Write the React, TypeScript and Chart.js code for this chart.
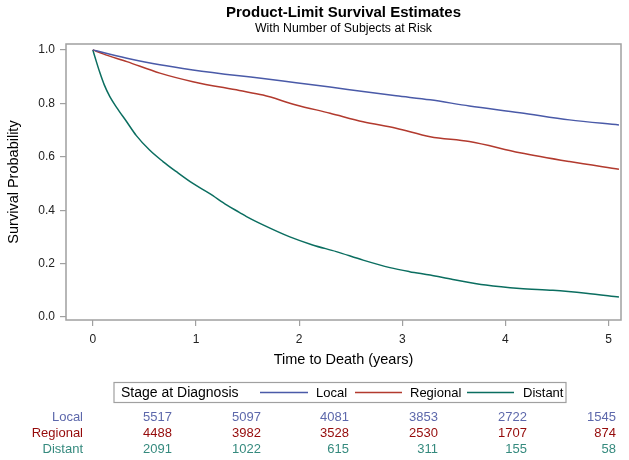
import React, { useEffect, useRef } from "react";
import { Chart, registerables } from "chart.js";
Chart.register(...registerables);

const xTicks = [0, 1, 2, 3, 4, 5];
const yTicks = [0, 0.2, 0.4, 0.6, 0.8, 1.0];

const groups = ["Local", "Regional", "Distant"];

const localT = [0, 0.1, 0.33, 0.65, 0.97, 1.42, 1.65, 1.97, 2.3, 2.62, 2.94, 3.27, 3.65, 4.14, 4.62, 5.1];
const localS = [1.0, 0.99, 0.969, 0.944, 0.925, 0.903, 0.893, 0.877, 0.861, 0.844, 0.828, 0.813, 0.79, 0.765, 0.738, 0.719];

const regionalT = [0, 0.1, 0.33, 0.65, 0.97, 1.42, 1.65, 1.97, 2.3, 2.62, 2.94, 3.27, 3.65, 4.14, 4.62, 5.1];
const regionalS = [1.0, 0.985, 0.956, 0.913, 0.881, 0.848, 0.831, 0.794, 0.763, 0.731, 0.707, 0.675, 0.657, 0.615, 0.582, 0.553];

const distantT = [0, 0.035, 0.068, 0.11, 0.165, 0.23, 0.33, 0.42, 0.55, 0.68, 0.81, 0.97, 1.13, 1.3, 1.42, 1.49, 1.65, 1.91, 2.13, 2.36, 2.62, 2.88, 3.07, 3.27, 3.49, 3.81, 4.14, 4.46, 4.78, 5.1];
const distantS = [1.0, 0.955, 0.915, 0.87, 0.825, 0.785, 0.73, 0.68, 0.625, 0.582, 0.544, 0.5, 0.463, 0.419, 0.392, 0.376, 0.345, 0.3, 0.27, 0.245, 0.213, 0.185, 0.17, 0.157, 0.141, 0.12, 0.107, 0.1, 0.089, 0.075];

const atRiskLocal = [5517, 5097, 4081, 3853, 2722, 1545];
const atRiskRegional = [4488, 3982, 3528, 2530, 1707, 874];
const atRiskDistant = [2091, 1022, 615, 311, 155, 58];

const lineColors = ["#4a5aa8", "#b23a2e", "#0b6e60"];
const textColors = ["#5d68ab", "#950a0a", "#358a7e"];

const FONT = '"Liberation Sans", Arial, sans-serif';

function pts(t: number[], s: number[]) {
  return t.map((x, i) => ({ x, y: s[i] }));
}

const decor = {
  id: "decor",
  afterDraw(chart: any) {
    const ctx = chart.ctx;
    const ca = chart.chartArea;
    ctx.save();
    // frame
    ctx.strokeStyle = "#a0a0a0";
    ctx.lineWidth = 1.5;
    ctx.strokeRect(ca.left, ca.top, ca.right - ca.left, ca.bottom - ca.top);
    const cx = (ca.left + ca.right) / 2;
    // titles
    ctx.fillStyle = "#000";
    ctx.textAlign = "center";
    ctx.textBaseline = "middle";
    ctx.font = "bold 15px " + FONT;
    ctx.fillText("Product-Limit Survival Estimates", cx, 13);
    ctx.font = "12.3px " + FONT;
    ctx.fillText("With Number of Subjects at Risk", cx, 29);
    // axis titles
    ctx.font = "14.5px " + FONT;
    ctx.fillText("Time to Death (years)", cx, 360);
    ctx.save();
    ctx.translate(14, (ca.top + ca.bottom) / 2);
    ctx.rotate(-Math.PI / 2);
    ctx.fillText("Survival Probability", 0, 0);
    ctx.restore();
    // legend
    ctx.strokeStyle = "#a0a0a0";
    ctx.lineWidth = 1.2;
    ctx.strokeRect(114, 382.5, 452, 20);
    ctx.textAlign = "left";
    ctx.fillStyle = "#000";
    ctx.font = "14px " + FONT;
    ctx.fillText("Stage at Diagnosis", 121, 393);
    ctx.font = "13px " + FONT;
    const legItems = [
      { x0: 260, x1: 308, tx: 316 },
      { x0: 355, x1: 402, tx: 410 },
      { x0: 467, x1: 514, tx: 523 },
    ];
    legItems.forEach((it, i) => {
      ctx.strokeStyle = lineColors[i];
      ctx.lineWidth = 1.5;
      ctx.beginPath();
      ctx.moveTo(it.x0, 392.5);
      ctx.lineTo(it.x1, 392.5);
      ctx.stroke();
      ctx.fillStyle = "#000";
      ctx.fillText(groups[i], it.tx, 393);
    });
    // at-risk table
    const rows = [atRiskLocal, atRiskRegional, atRiskDistant];
    const rowY = [417, 433, 449.5];
    const colX = [172, 261, 349, 438, 527, 616];
    ctx.font = "13px " + FONT;
    rows.forEach((r, i) => {
      ctx.fillStyle = textColors[i];
      ctx.textAlign = "right";
      ctx.fillText(groups[i], 83, rowY[i]);
      r.forEach((v, j) => {
        ctx.fillText(String(v), colX[j], rowY[i]);
      });
    });
    ctx.restore();
  },
};

export default function App() {
  const ref = useRef<HTMLCanvasElement | null>(null);
  useEffect(() => {
    document.body.style.margin = "0";
    const canvas = ref.current!;
    const datasets = [
      pts(localT, localS),
      pts(regionalT, regionalS),
      pts(distantT, distantS),
    ].map((data, i) => ({
      label: groups[i],
      data,
      borderColor: lineColors[i],
      borderWidth: 1.5,
      pointRadius: 0,
      fill: false,
      cubicInterpolationMode: "monotone",
    }));
    const chart = new Chart(canvas, {
      type: "line",
      data: { datasets },
      plugins: [decor],
      options: {
        responsive: false,
        animation: false,
        layout: { padding: { left: 0, right: 8, top: 44, bottom: 110 } },
        plugins: { legend: { display: false }, tooltip: { enabled: false }, title: { display: false } },
        scales: {
          x: {
            type: "linear",
            min: -0.26,
            max: 5.12,
            afterFit: (s: any) => { s.height = 30; },
            afterBuildTicks: (s: any) => { s.ticks = xTicks.map((v) => ({ value: v })); },
            grid: { drawOnChartArea: false, drawTicks: true, tickLength: 6, color: "#a0a0a0", lineWidth: 1.2 },
            border: { display: false },
            ticks: { padding: 6, color: "#222", font: { size: 12, family: FONT }, callback: (v: any) => String(v) },
          },
          y: {
            type: "linear",
            min: -0.011,
            max: 1.022,
            afterFit: (s: any) => { s.width = 66; },
            afterBuildTicks: (s: any) => { s.ticks = yTicks.map((v) => ({ value: v })); },
            grid: { drawOnChartArea: false, drawTicks: true, tickLength: 6, color: "#a0a0a0", lineWidth: 1.2 },
            border: { display: false },
            ticks: { padding: 5, color: "#222", font: { size: 12, family: FONT }, callback: (v: any) => Number(v).toFixed(1) },
          },
        },
      },
    } as any);
    return () => chart.destroy();
  }, []);
  return (
    <div style={{ width: 629, height: 460 }}>
      <canvas ref={ref} width={629} height={460} style={{ display: "block" }} />
    </div>
  );
}
